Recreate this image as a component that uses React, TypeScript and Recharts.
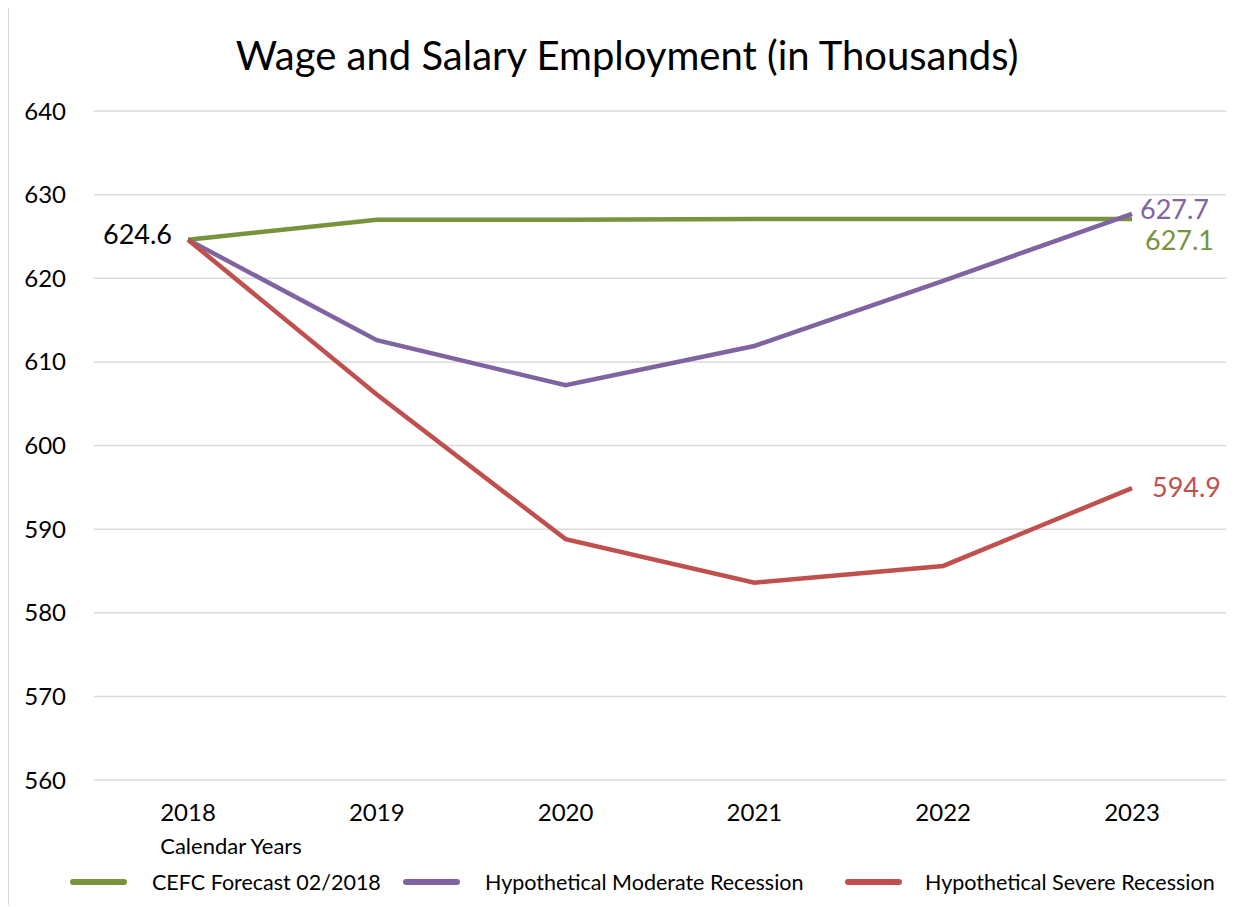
import React from 'react';
import { LineChart, Line, XAxis, YAxis, CartesianGrid, Legend, Label } from 'recharts';

const years = ['2018', '2019', '2020', '2021', '2022', '2023'];
const cefcForecast = [624.6, 627.0, 627.0, 627.1, 627.1, 627.1];
const moderateRecession = [624.6, 612.6, 607.2, 611.9, 619.7, 627.7];
const severeRecession = [624.6, 606.1, 588.8, 583.6, 585.6, 594.9];
const yTicks = [560, 570, 580, 590, 600, 610, 620, 630, 640];

const seriesNames = {
  cefc: 'CEFC Forecast 02/2018',
  moderate: 'Hypothetical Moderate Recession',
  severe: 'Hypothetical Severe Recession',
};

const data = years.map((year, i) => ({
  year,
  cefc: cefcForecast[i],
  moderate: moderateRecession[i],
  severe: severeRecession[i],
}));

const FONT = 'Lato, "Open Sans", sans-serif';
const GREEN = '#77933C';
const PURPLE = '#8064A2';
const RED = '#C0504D';

const last = years.length - 1;

const makeLabel = (color: string, dx: number, dy: number, showFirst: boolean, firstColor?: string) =>
  (props: any) => {
    const { x, y, index, value } = props;
    if (index === last) {
      return (
        <text x={x + dx} y={y + dy} fill={color} fontSize={27} fontFamily={FONT} dominantBaseline="central" textAnchor="start">
          {Number(value).toFixed(1)}
        </text>
      );
    }
    if (showFirst && index === 0) {
      return (
        <text x={x - 16} y={y - 6} fill={firstColor || '#000'} fontSize={27} fontFamily={FONT} dominantBaseline="central" textAnchor="end">
          {Number(value).toFixed(1)}
        </text>
      );
    }
    return null;
  };

const legendItems = [
  { key: 'cefc', color: GREEN, lineLeft: 61, textLeft: 143 },
  { key: 'moderate', color: PURPLE, lineLeft: 394, textLeft: 476 },
  { key: 'severe', color: RED, lineLeft: 836, textLeft: 916 },
];

const CustomLegend = () => (
  <div style={{ position: 'relative', width: 1236, height: 40, fontFamily: FONT, fontSize: 21.5, color: '#000' }}>
    {legendItems.map((it) => (
      <React.Fragment key={it.key}>
        <div style={{ position: 'absolute', left: it.lineLeft, top: 13, width: 57, height: 6, borderRadius: 3, background: it.color }} />
        <div style={{ position: 'absolute', left: it.textLeft, top: 2, lineHeight: '28px', whiteSpace: 'nowrap' }}>
          {(seriesNames as any)[it.key]}
        </div>
      </React.Fragment>
    ))}
  </div>
);

export default function App() {
  return (
    <div style={{ width: 1243, height: 897, borderTop: '1px solid #d9d9d9', borderLeft: '1px solid #d9d9d9', marginTop: -1, position: 'relative', background: '#fff' }}>
      <div style={{ position: 'absolute', top: 23, left: 0, width: 1236, textAlign: 'center', fontFamily: FONT, fontSize: 40, color: '#000', lineHeight: '48px' }}>
        Wage and Salary Employment (in Thousands)
      </div>
      <LineChart width={1236} height={898} data={data} margin={{ top: 103, right: 19, bottom: 0, left: 0 }}>
        <CartesianGrid horizontal vertical={false} stroke="#d9d9d9" strokeWidth={1.5} />
        <XAxis
          dataKey="year"
          axisLine={false}
          tickLine={false}
          height={86}
          padding={{ left: 94, right: 94 }}
          tick={{ fontSize: 24, fontFamily: FONT, fill: '#000' }}
          tickMargin={18}
        >
          <Label
            content={(props: any) => {
              const vb = props.viewBox || {};
              return (
                <text x={vb.x + 137} y={vb.y + 65} textAnchor="middle" dominantBaseline="central" fontSize={22} fontFamily={FONT} fill="#000">
                  Calendar Years
                </text>
              );
            }}
          />
        </XAxis>
        <YAxis
          width={85}
          domain={[560, 640]}
          ticks={yTicks}
          axisLine={false}
          tickLine={false}
          tickMargin={22}
          tick={{ fontSize: 24, fontFamily: FONT, fill: '#000' }}
        />
        <Legend verticalAlign="bottom" content={<CustomLegend />} />
        <Line type="linear" dataKey="cefc" name={seriesNames.cefc} stroke={GREEN} strokeWidth={4.5} dot={false} isAnimationActive={false} label={makeLabel(GREEN, 13, 21, false)} />
        <Line type="linear" dataKey="moderate" name={seriesNames.moderate} stroke={PURPLE} strokeWidth={4.5} dot={false} isAnimationActive={false} label={makeLabel(PURPLE, 8, -5, false)} />
        <Line type="linear" dataKey="severe" name={seriesNames.severe} stroke={RED} strokeWidth={4.5} dot={false} isAnimationActive={false} label={makeLabel(RED, 20, -2, true, '#000')} />
      </LineChart>
    </div>
  );
}
